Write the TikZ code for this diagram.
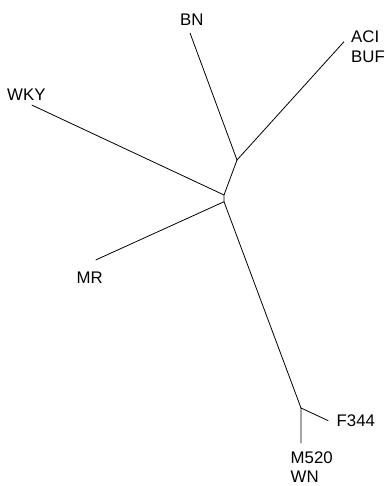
\documentclass[tikz,border=0pt]{standalone}
\usepackage{fontspec}
\setmainfont{Liberation Sans}
\begin{document}
\begin{tikzpicture}[x=1pt,y=-1pt,
  branch/.style={draw=black,line width=0.8pt},
  leaf/.style={anchor=base west,inner sep=0pt,text depth=0pt,font=\fontsize{16.8}{20}\selectfont}]
\useasboundingbox (0,0) rectangle (387,486);
% internal vertices of the tree
\coordinate (n1) at (237,160);
\coordinate (n2a) at (224,195);
\coordinate (n2b) at (224,201.7);
\coordinate (n3) at (301,408);
% branch tips
\coordinate (tBN) at (190,33);
\coordinate (tACI) at (344,41.7);
\coordinate (tWKY) at (31.7,105);
\coordinate (tMR) at (95.7,260);
\coordinate (tF) at (328.3,420.7);
\coordinate (tM) at (301,443.3);
% labels
\node[leaf] (BN) at (180,25.7) {BN};
\node[leaf] (ACI) at (351,42.7) {ACI};
\node[leaf] (BUF) at (351,62.7) {BUF};
\node[leaf] (WKY) at (7,100.7) {WKY};
\node[leaf] (MR) at (76.5,283.3) {MR};
\node[leaf] (F344) at (336.5,426.7) {F344};
\node[leaf] (M520) at (290.5,463.5) {M520};
\node[leaf] (WN) at (290.5,482.5) {WN};
% branches
\draw[branch] (tBN) -- (n1) -- (tACI);
\draw[branch] (n1) -- (n2a) -- (n2b);
\draw[branch] (tWKY) -- (n2a);
\draw[branch] (tMR) -- (n2b) -- (n3);
\draw[branch] (tF) -- (n3) -- (tM);
\end{tikzpicture}
\end{document}
